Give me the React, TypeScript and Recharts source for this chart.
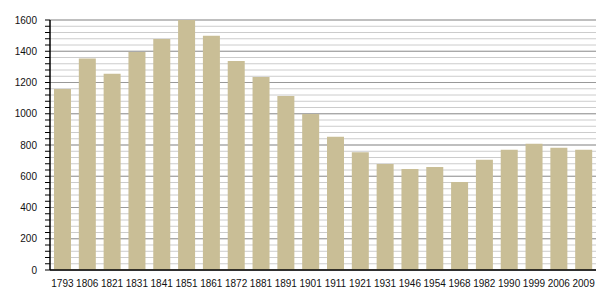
import React from "react";
import { BarChart, Bar, XAxis, YAxis, CartesianGrid } from "recharts";

const years = ["1793","1806","1821","1831","1841","1851","1861","1872","1881","1891","1901","1911","1921","1931","1946","1954","1968","1982","1990","1999","2006","2009"];
const population = [1158,1354,1256,1395,1478,1600,1500,1338,1235,1113,998,853,754,678,647,660,564,705,769,808,782,769];
const minorTicks = [0,40,80,120,160,200,240,280,320,360,400,440,480,520,560,600,640,680,720,760,800,840,880,920,960,1000,1040,1080,1120,1160,1200,1240,1280,1320,1360,1400,1440,1480,1520,1560,1600];
const majorTicks = [0,200,400,600,800,1000,1200,1400,1600];

const data = years.map((y, i) => ({ year: y, pop: population[i] }));

const FONT = "'Liberation Sans', Arial, sans-serif";

const YTick = (props: any) => {
  const { x, y, payload } = props;
  const major = payload.value % 200 === 0;
  if (!major) return <g />;
  return (
    <text x={x} y={y} dy="0.35em" textAnchor="end" fontSize={10} fontFamily={FONT} fill="#111">
      {payload.value}
    </text>
  );
};

export default function App() {
  return (
    <div style={{ position: "absolute", left: 0, top: 0, width: 605, height: 300, background: "#fff" }}>
      <BarChart
        width={605}
        height={300}
        data={data}
        margin={{ top: 20, right: 9, bottom: 10, left: 0 }}
        barCategoryGap={4}
      >
        <CartesianGrid
          vertical={false}
          horizontalValues={minorTicks}
          stroke="#cccccc"
          strokeWidth={1}
        />
        <CartesianGrid
          vertical={false}
          horizontalValues={majorTicks}
          stroke="#999999"
          strokeWidth={1}
        />
        <XAxis
          dataKey="year"
          tickLine={false}
          axisLine={{ stroke: "#000", strokeWidth: 1.5 }}
          tick={{ fontSize: 10, fontFamily: FONT, fill: "#111" }}
          tickMargin={4}
          height={20}
          interval={0}
        />
        <YAxis
          domain={[0, 1600]}
          ticks={minorTicks}
          interval={0}
          width={50}
          tickSize={5}
          tickMargin={8}
          tickLine={{ stroke: "#000" }}
          axisLine={{ stroke: "#000", strokeWidth: 1.5 }}
          tick={<YTick />}
        />
        <Bar dataKey="pop" fill="#c9be96" isAnimationActive={false} />
      </BarChart>
    </div>
  );
}
